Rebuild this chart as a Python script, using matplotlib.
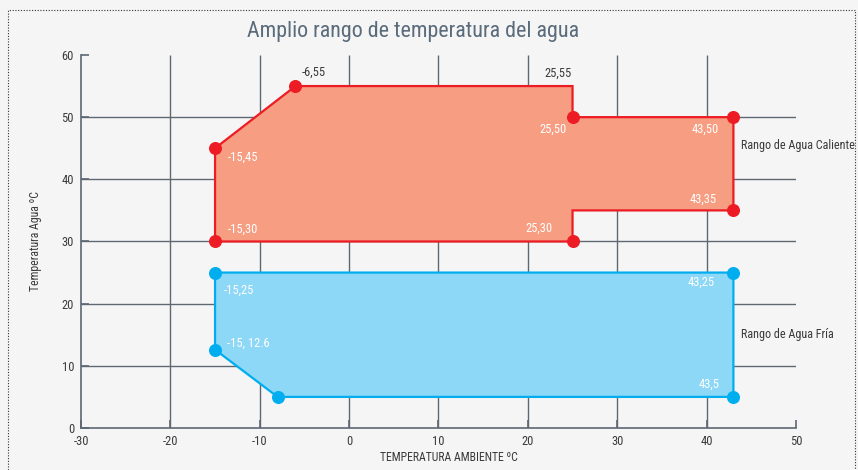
import matplotlib
matplotlib.use('Agg')
import matplotlib.pyplot as plt
from matplotlib import font_manager
from matplotlib.patches import Polygon, Rectangle

names = set(f.name for f in font_manager.fontManager.ttflist)
fam = [n for n in ['Roboto Condensed', 'Liberation Sans Narrow', 'Arial Narrow', 'Roboto'] if n in names]
plt.rcParams['font.family'] = fam + ['DejaVu Sans']
plt.rcParams['axes.unicode_minus'] = False

# data
hot_x = [-15, -15, -6, 25, 25, 43, 43, 25, 25]
hot_y = [30, 45, 55, 55, 50, 50, 35, 35, 30]
hot_pts_x = [-15, -6, 25, 43, 43, 25, -15]
hot_pts_y = [45, 55, 50, 50, 35, 30, 30]
hot_labels = ['-15,45', '-6,55', '25,50', '43,50', '43,35', '25,30', '-15,30']
hot_extra = ('25,55', 25, 55)

cold_x = [-15, 43, 43, -8, -15]
cold_y = [25, 25, 5, 5, 12.6]
cold_labels = ['-15,25', '43,25', '43,5', '', '-15, 12.6']

xticks = [-30, -20, -10, 0, 10, 20, 30, 40, 50]
yticks = [0, 10, 20, 30, 40, 50, 60]

# styles
hot_edge, hot_fill = '#ed1c24', '#f79e82'
cold_edge, cold_fill = '#00aeef', '#8dd7f7'
grid_c = '#5d6873'
txt_c = '#3a3a3a'
hot_off = [(9.4, -6.5, 'left'), (4.3, 10, 'left'), (-4.3, -8.6, 'right'),
           (-10.8, -8.6, 'right'), (-12.2, 8, 'right'), (-14.4, 9.4, 'right'),
           (9.4, 8.6, 'left')]
hot_col = ['white', txt_c, 'white', 'white', 'white', 'white', 'white']
cold_off = [(6.5, -13, 'left'), (-13.7, -7.2, 'right'), (-10, 9.4, 'right'),
            (0, 0, 'left'), (8.6, 4.3, 'left')]

fig = plt.figure(figsize=(8.58, 4.70), dpi=100)
fig.patch.set_facecolor('#f5f5f5')
fig.patches.append(Rectangle((0.009, -0.02), 0.9875, 0.999, transform=fig.transFigure,
                             fill=False, ls=(0, (1, 1.5)), lw=0.8, ec='#333333'))
ax = fig.add_axes([0.0944, 0.0894, 0.8333, 0.7936])
ax.set_facecolor('#f5f5f5')
ax.set_xlim(-30, 50)
ax.set_ylim(0, 60)

ax.vlines(xticks[1:-1], 0, 60, color=grid_c, lw=1.0, zorder=1)
ax.hlines(yticks[1:-1], -30, 50, color=grid_c, lw=1.0, zorder=1)
for s in ['top', 'right']:
    ax.spines[s].set_visible(False)
for s in ['left', 'bottom']:
    ax.spines[s].set_color(grid_c)
    ax.spines[s].set_linewidth(1.2)
ax.set_xticks(xticks)
ax.set_yticks(yticks)
ax.tick_params(direction='in', length=6, width=1.2, color=grid_c, labelsize=9,
               labelcolor=txt_c, pad=5)

ax.add_patch(Polygon(list(zip(hot_x, hot_y)), closed=True, fc=hot_fill, ec=hot_edge,
                     lw=1.6, zorder=3))
ax.add_patch(Polygon(list(zip(cold_x, cold_y)), closed=True, fc=cold_fill, ec=cold_edge,
                     lw=1.6, zorder=3))
ax.scatter(hot_pts_x, hot_pts_y, s=70, color=hot_edge, zorder=4, clip_on=False)
ax.scatter(cold_x, cold_y, s=70, color=cold_edge, zorder=4, clip_on=False)

for x, y, t, o, c in zip(hot_pts_x, hot_pts_y, hot_labels, hot_off, hot_col):
    ax.annotate(t, (x, y), xytext=o[:2], textcoords='offset points', color=c,
                fontsize=9, va='center', ha=o[2], zorder=5)
ax.annotate(hot_extra[0], (hot_extra[1], hot_extra[2]), xytext=(-0.7, 9.4),
            textcoords='offset points', color=txt_c, fontsize=9, va='center', ha='right')
for x, y, t, o in zip(cold_x, cold_y, cold_labels, cold_off):
    if t:
        ax.annotate(t, (x, y), xytext=o[:2], textcoords='offset points', color='white',
                    fontsize=9, va='center', ha=o[2], zorder=5)

ax.text(43.8, 45.5, 'Rango de Agua Caliente', fontsize=8.7, color=txt_c, va='center')
ax.text(43.8, 15.1, 'Rango de Agua Fría', fontsize=8.7, color=txt_c, va='center')

ax.set_xlabel('TEMPERATURA AMBIENTE ºC', fontsize=8.5, color=txt_c, labelpad=4)
ax.xaxis.set_label_coords(0.515, -0.062)
ax.set_ylabel('Temperatura Agua ºC', fontsize=8.5, color=txt_c, labelpad=14)
fig.text(0.482, 0.932, 'Amplio rango de temperatura del agua', ha='center', va='center',
         fontsize=15.8, color='#5a6b7b')

fig.savefig('out.png', dpi=100, facecolor=fig.get_facecolor())
